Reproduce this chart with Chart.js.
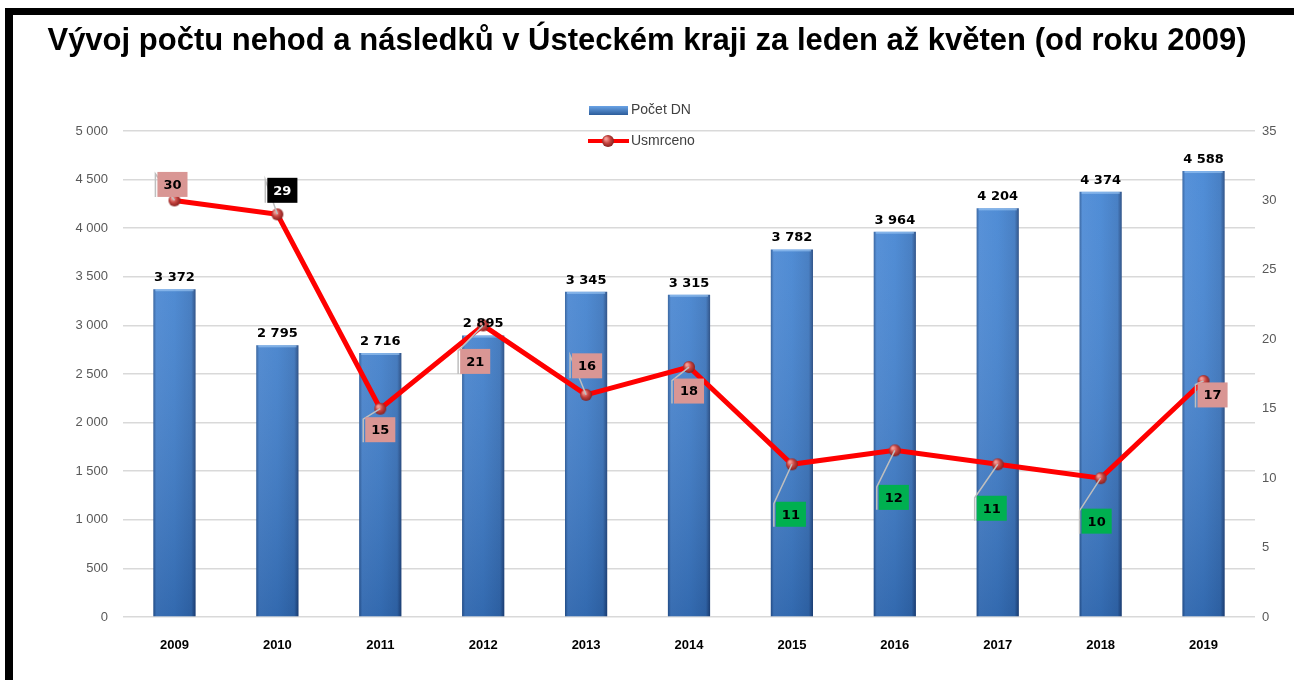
<!DOCTYPE html>
<html>
<head>
<meta charset="utf-8">
<title>Vývoj počtu nehod</title>
<script src="https://cdn.jsdelivr.net/npm/chart.js@4/dist/chart.umd.min.js"></script>
<style>
  html, body { margin: 0; padding: 0; background: #fff; overflow: hidden; }
  #wrap { position: relative; width: 1294px; height: 680px; overflow: hidden; }
  #frame { position: absolute; left: 5px; top: 8px; width: 1400px; height: 800px;
           border-left: 8px solid #000; border-top: 7px solid #000; pointer-events: none; }
</style>
</head>
<body>
<div id="wrap">
  <canvas id="chartNehody" width="1294" height="680"></canvas>
  <div id="frame"></div>
</div>
<script>
// data
const roky = ['2009', '2010', '2011', '2012', '2013', '2014', '2015', '2016', '2017', '2018', '2019'];
const pocetDN = [3372, 2795, 2716, 2895, 3345, 3315, 3782, 3964, 4204, 4374, 4588];
const usmrceno = [30, 29, 15, 21, 16, 18, 11, 12, 11, 10, 17];

// posun popisku vuci bodu (dx, dy) a barva ramecku
const popiskyPosun = [[-2, -16], [5, -24], [0, 21], [-8, 36], [1, -29], [0, 24],
                      [-1, 50], [-1, 47], [-6, 44], [-4, 43], [9, 14]];
const popiskyBarva = ['#d99694', '#000000', '#d99694', '#d99694', '#d99694', '#d99694',
                      '#00b050', '#00b050', '#00b050', '#00b050', '#d99694'];

const fmt = n => String(n).replace(/\B(?=(\d{3})+(?!\d))/g, ' ');

// kulicka pro body cary
function kulicka(r) {
  const c = document.createElement('canvas');
  c.width = c.height = r * 2 + 2;
  const g = c.getContext('2d');
  const grad = g.createRadialGradient(r + 1 - r * 0.35, r + 1 - r * 0.4, 1, r + 1, r + 1, r + 1);
  grad.addColorStop(0, '#f39a95');
  grad.addColorStop(0.45, '#c4423e');
  grad.addColorStop(1, '#761917');
  g.fillStyle = grad;
  g.beginPath();
  g.arc(r + 1, r + 1, r, 0, Math.PI * 2);
  g.fill();
  return c;
}
const bodImg = kulicka(6);

// gradient sloupcu (kazdy sloupec vlastni)
const sloupcePlugin = {
  id: 'sloupce',
  beforeDatasetsDraw(chart) {
    const ctx = chart.ctx;
    chart.getDatasetMeta(1).data.forEach(el => {
      const x0 = el.x - el.width / 2, x1 = el.x + el.width / 2;
      const g = ctx.createLinearGradient(x0, 0, x1, 0);
      g.addColorStop(0, '#2b5c9c');
      g.addColorStop(0.07, '#4a89d6');
      g.addColorStop(0.5, '#4284d3');
      g.addColorStop(0.9, '#3a76c0');
      g.addColorStop(1, '#214780');
      el.options.backgroundColor = g;
    });
  },
  afterDatasetDraw(chart, args) {
    if (args.index !== 1) return;
    const ctx = chart.ctx;
    const area = chart.chartArea;
    ctx.save();
    chart.getDatasetMeta(1).data.forEach(el => {
      const x0 = el.x - el.width / 2;
      const g = ctx.createLinearGradient(0, area.top + 40, 0, area.bottom);
      g.addColorStop(0, 'rgba(255,255,255,0.07)');
      g.addColorStop(1, 'rgba(0,20,60,0.24)');
      ctx.fillStyle = g;
      ctx.fillRect(x0, el.y, el.width, el.base - el.y);
      // svetly horni okraj
      ctx.fillStyle = 'rgba(170,210,250,0.55)';
      ctx.fillRect(x0 + 2, el.y, el.width - 4, 2);
    });
    ctx.restore();
  }
};

// popisky hodnot
const popiskyPlugin = {
  id: 'popisky',
  afterDatasetsDraw(chart) {
    const ctx = chart.ctx;
    ctx.save();
    // sloupce
    ctx.font = 'bold 13px "DejaVu Sans", sans-serif';
    ctx.fillStyle = '#000';
    ctx.textAlign = 'center';
    ctx.textBaseline = 'bottom';
    chart.getDatasetMeta(1).data.forEach((el, i) => {
      ctx.fillText(fmt(pocetDN[i]), el.x, el.y - 5);
    });
    // cara
    ctx.textBaseline = 'middle';
    chart.getDatasetMeta(0).data.forEach((el, i) => {
      const txt = String(usmrceno[i]);
      const w = ctx.measureText(txt).width + 12;
      const h = 25;
      const cx = el.x + popiskyPosun[i][0];
      const cy = el.y + popiskyPosun[i][1];
      const lx = cx - w / 2 - 2;
      // vodici cara
      ctx.strokeStyle = '#bfbfbf';
      ctx.lineWidth = 1.5;
      ctx.beginPath();
      ctx.moveTo(el.x, el.y);
      ctx.lineTo(lx, cy - h / 2 + 2);
      ctx.lineTo(lx, cy + h / 2);
      ctx.stroke();
      ctx.fillStyle = popiskyBarva[i];
      ctx.fillRect(cx - w / 2, cy - h / 2, w, h);
      ctx.fillStyle = popiskyBarva[i] === '#000000' ? '#fff' : '#000';
      ctx.fillText(txt, cx, cy + 1);
    });
    ctx.restore();
  },
  afterDraw(chart) {
    // legenda
    const ctx = chart.ctx;
    const ds = chart.data.datasets;
    ctx.save();
    const g = ctx.createLinearGradient(0, 106, 0, 115);
    g.addColorStop(0, '#6aa3e6');
    g.addColorStop(1, '#2c5c9a');
    ctx.fillStyle = g;
    ctx.fillRect(589, 106, 39, 9);
    ctx.strokeStyle = '#ff0000';
    ctx.lineWidth = 4;
    ctx.beginPath();
    ctx.moveTo(588, 141);
    ctx.lineTo(629, 141);
    ctx.stroke();
    ctx.drawImage(bodImg, 608 - bodImg.width / 2, 141 - bodImg.height / 2);
    ctx.font = '14px "Liberation Sans", sans-serif';
    ctx.fillStyle = '#404040';
    ctx.textAlign = 'left';
    ctx.textBaseline = 'middle';
    ctx.fillText(ds[1].label, 631, 110);
    ctx.fillText(ds[0].label, 631, 141);
    ctx.restore();
  }
};

const ctx = document.getElementById('chartNehody');
const grafNehody = new Chart(ctx, {
  data: {
    labels: roky,
    datasets: [
      {
        type: 'line',
        label: 'Usmrceno',
        data: usmrceno,
        yAxisID: 'y1',
        borderColor: '#ff0000',
        borderWidth: 5,
        pointStyle: bodImg,
        pointRadius: 6,
        tension: 0,
        order: 0
      },
      {
        type: 'bar',
        label: 'Počet DN',
        data: pocetDN,
        yAxisID: 'y',
        // funkce => kazdy sloupec ma vlastni objekt options
        backgroundColor: c => '#4284d3',
        categoryPercentage: 1,
        barPercentage: 0.41,
        order: 1
      }
    ]
  },
  options: {
    responsive: false,
    animation: false,
    layout: { padding: 0 },
    plugins: {
      legend: { display: false },
      tooltip: { enabled: false },
      title: {
        display: true,
        text: 'Vývoj počtu nehod a následků v Ústeckém kraji za leden až květen (od roku 2009)',
        color: '#000',
        font: { family: '"Liberation Sans", Arial, sans-serif', size: 31, weight: 'bold', lineHeight: 1.2 },
        padding: { top: 23, bottom: 70.8 }
      }
    },
    scales: {
      x: {
        grid: { display: false },
        border: { display: false },
        ticks: {
          color: '#000',
          padding: 13,
          font: { family: '"Liberation Sans Narrow", "Liberation Sans", Arial, sans-serif', size: 13, weight: 'bold' }
        },
        afterFit(scale) { scale.height = 63; }
      },
      y: {
        position: 'left',
        min: 0,
        max: 5000,
        border: { display: false },
        grid: { color: '#d9d9d9', lineWidth: 1.5, drawTicks: false },
        ticks: {
          stepSize: 500,
          padding: 15,
          color: '#595959',
          font: { family: '"Liberation Sans", Arial, sans-serif', size: 13 },
          callback: v => fmt(v)
        },
        afterFit(scale) { scale.width = 123; }
      },
      y1: {
        position: 'right',
        min: 0,
        max: 35,
        border: { display: false },
        grid: { drawOnChartArea: false, drawTicks: false },
        ticks: {
          stepSize: 5,
          padding: 7,
          color: '#595959',
          font: { family: '"Liberation Sans", Arial, sans-serif', size: 13 }
        },
        afterFit(scale) { scale.width = 39; }
      }
    }
  },
  plugins: [sloupcePlugin, popiskyPlugin]
});
</script>
</body>
</html>
